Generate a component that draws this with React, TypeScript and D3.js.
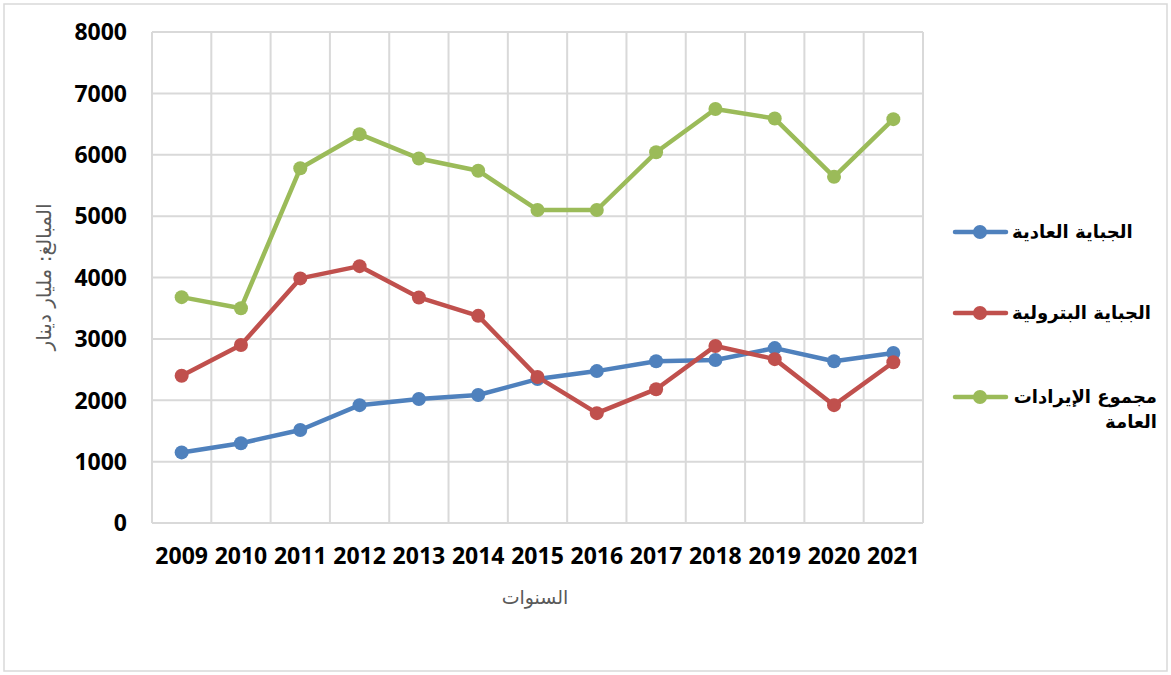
import { FC } from 'react';
import * as d3 from 'd3';

const years = ['2009', '2010', '2011', '2012', '2013', '2014', '2015', '2016', '2017', '2018', '2019', '2020', '2021'];
const ordinaryTax = [1150, 1300, 1515, 1920, 2020, 2085, 2345, 2475, 2635, 2655, 2850, 2635, 2770];
const oilTax = [2400, 2900, 3985, 4185, 3675, 3375, 2380, 1790, 2180, 2885, 2670, 1920, 2620];
const totalRevenue = [3680, 3500, 5780, 6335, 5940, 5740, 5100, 5100, 6040, 6745, 6590, 5640, 6580];
const yTicks = [0, 1000, 2000, 3000, 4000, 5000, 6000, 7000, 8000];

const series = [
  { name: ['الجباية العادية'], values: ordinaryTax, color: '#4F81BD' },
  { name: ['الجباية البترولية'], values: oilTax, color: '#C0504D' },
  { name: ['مجموع الإيرادات', 'العامة'], values: totalRevenue, color: '#9BBB59' },
];

const W = 1171;
const H = 675;
const plot = { left: 152, right: 923, top: 32, bottom: 523 };
const legendY = [232, 313, 397];
const latinFont = '"Open Sans", "Liberation Sans", sans-serif';
const arabicFont = '"DejaVu Sans", sans-serif';

const App: FC = () => {
  const x = d3.scaleBand<string>().domain(years).range([plot.left, plot.right]);
  const y = d3.scaleLinear().domain([0, 8000]).range([plot.bottom, plot.top]);
  const cx = (i: number) => (x(years[i]) as number) + x.bandwidth() / 2;
  const line = d3
    .line<number>()
    .x((_d, i) => cx(i))
    .y(d => y(d));

  const vLines = [...years.map(yr => x(yr) as number), plot.right];

  return (
    <svg
      width={W}
      height={H}
      style={{ position: 'absolute', left: 0, top: 0, background: '#fff' }}
    >
      <rect x={4} y={4} width={W - 8} height={H - 8} fill="#fff" stroke="#d9d9d9" strokeWidth={1.5} />

      {/* grid */}
      {yTicks.map(t => (
        <line key={'h' + t} x1={plot.left} x2={plot.right} y1={y(t)} y2={y(t)} stroke="#d9d9d9" strokeWidth={2} />
      ))}
      {vLines.map((v, i) => (
        <line key={'v' + i} x1={v} x2={v} y1={plot.top} y2={plot.bottom} stroke="#d9d9d9" strokeWidth={2} />
      ))}

      {/* y ticks */}
      {yTicks.map(t => (
        <text
          key={'yt' + t}
          x={127}
          y={y(t)}
          dy="0.36em"
          textAnchor="end"
          fontFamily={latinFont}
          fontWeight="bold"
          fontSize={23}
          fill="#000"
        >
          {t}
        </text>
      ))}

      {/* x ticks */}
      {years.map((yr, i) => (
        <text
          key={'xt' + yr}
          x={cx(i)}
          y={564}
          textAnchor="middle"
          fontFamily={latinFont}
          fontWeight="bold"
          fontSize={23}
          fill="#000"
        >
          {yr}
        </text>
      ))}

      {/* axis titles */}
      <text x={535} y={604} textAnchor="middle" fontFamily={arabicFont} fontSize={19} fill="#595959" direction="rtl">
        السنوات
      </text>
      <text
        transform="translate(51,277) rotate(-90)"
        textAnchor="middle"
        fontFamily={arabicFont}
        fontSize={20}
        fill="#595959"
        direction="rtl"
      >
        المبالغ: مليار دينار
      </text>

      {/* series */}
      {series.map(s => (
        <g key={s.color}>
          <path d={line(s.values) ?? ''} fill="none" stroke={s.color} strokeWidth={4.5} strokeLinejoin="round" />
          {s.values.map((v, i) => (
            <circle key={i} cx={cx(i)} cy={y(v)} r={7} fill={s.color} />
          ))}
        </g>
      ))}

      {/* legend */}
      {series.map((s, i) => (
        <g key={'lg' + s.color}>
          <line x1={955} x2={1006} y1={legendY[i]} y2={legendY[i]} stroke={s.color} strokeWidth={4.5} strokeLinecap="round" />
          <circle cx={980} cy={legendY[i]} r={7} fill={s.color} />
          {s.name.map((n, j) => (
            <text
              key={j}
              x={s.name.length > 1 ? 1157 : 1012}
              y={legendY[i] + 6 + j * 25}
              textAnchor={s.name.length > 1 ? 'start' : 'end'}
              direction="rtl"
              fontFamily={arabicFont}
              fontWeight="bold"
              fontSize={18}
              fill="#000"
            >
              {n}
            </text>
          ))}
        </g>
      ))}
    </svg>
  );
};

export default App;
